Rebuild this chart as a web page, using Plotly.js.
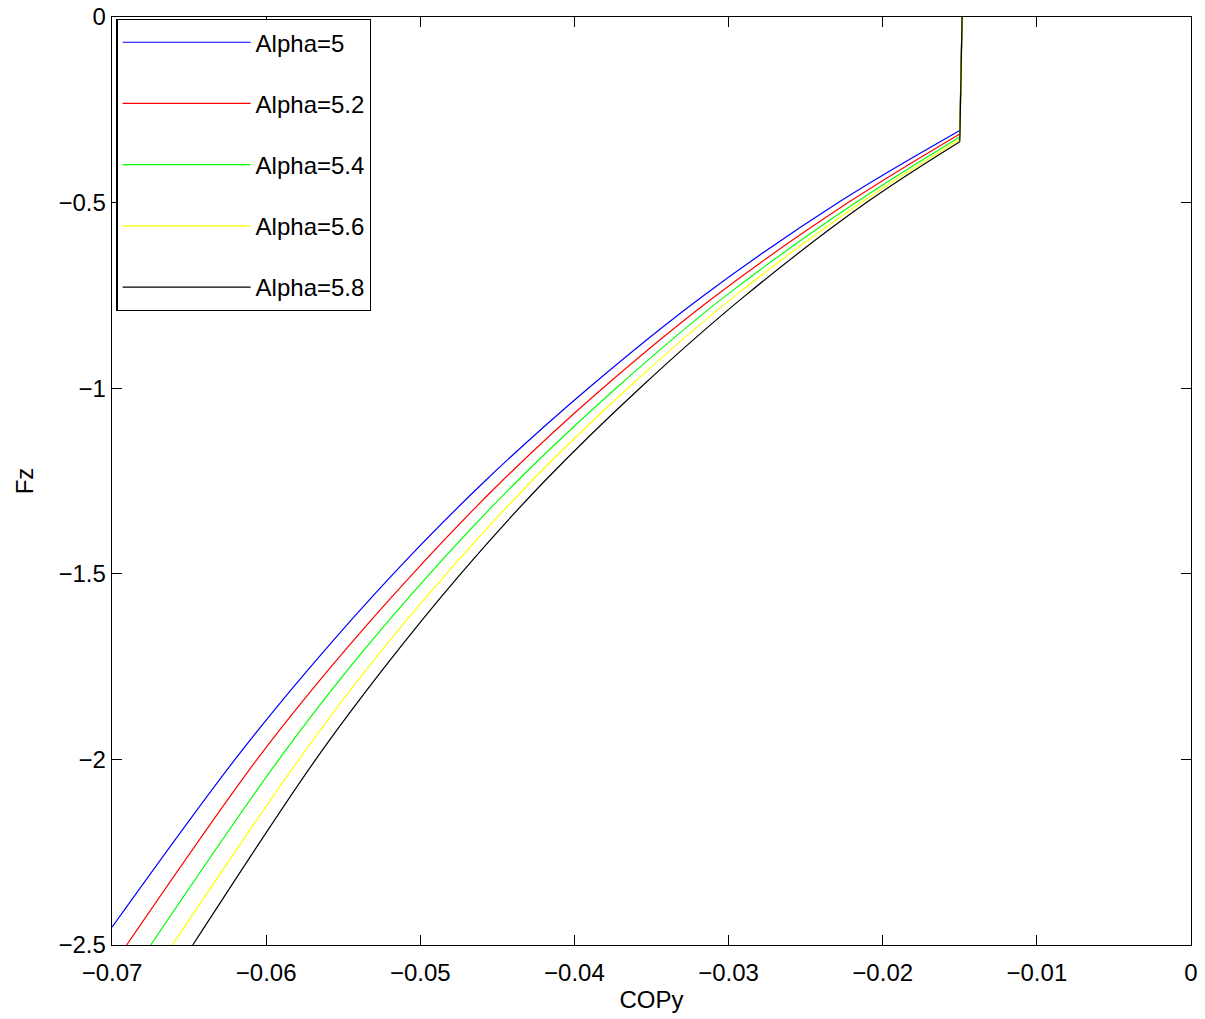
<!DOCTYPE html>
<html>
<head>
<meta charset="utf-8">
<script src="https://cdn.plot.ly/plotly-3.0.1.min.js"></script>
<style>html,body{margin:0;padding:0;background:#fff;}#chart{width:1205px;height:1019px;}</style>
</head>
<body>
<div id="chart"></div>
<script>
// Series names and colours
const seriesNames = ["Alpha=5", "Alpha=5.2", "Alpha=5.4", "Alpha=5.6", "Alpha=5.8"];
const seriesColors = ["#0000ff", "#ff0000", "#00ff00", "#ffff00", "#000000"];

// Curved part: COPy (x) and Fz (y)
const fzAlpha5   = [-2.452, -2, -1.75, -1.5, -1.25, -1, -0.75, -0.5, -0.306];
const copyAlpha5 = [-0.07, -0.06202, -0.05711, -0.05175, -0.0458, -0.0391, -0.03161, -0.02288, -0.0150];

const fzAlpha52   = [-2.5, -2, -1.75, -1.5, -1.25, -1, -0.75, -0.5, -0.315];
const copyAlpha52 = [-0.06905, -0.06059, -0.05578, -0.05049, -0.0447, -0.03817, -0.03081, -0.02224, -0.0150];

const fzAlpha54   = [-2.5, -2, -1.75, -1.5, -1.25, -1, -0.75, -0.5, -0.323];
const copyAlpha54 = [-0.06749, -0.05917, -0.05454, -0.04939, -0.04371, -0.0373, -0.03015, -0.02175, -0.0150];

const fzAlpha56   = [-2.5, -2, -1.75, -1.5, -1.25, -1, -0.75, -0.5, -0.330];
const copyAlpha56 = [-0.06609, -0.05787, -0.05335, -0.04831, -0.04277, -0.03654, -0.02955, -0.02139, -0.0150];

const fzAlpha58   = [-2.5, -2, -1.75, -1.5, -1.25, -1, -0.75, -0.5, -0.336];
const copyAlpha58 = [-0.06476, -0.05678, -0.05229, -0.04738, -0.04193, -0.03576, -0.0289, -0.02106, -0.0150];

// Near-vertical jump up to Fz = 0 (common top point)
const topCopy = -0.01485;
const topFz = 0;

const xTicks = [-0.07, -0.06, -0.05, -0.04, -0.03, -0.02, -0.01, 0];
const yTicks = [-2.5, -2, -1.5, -1, -0.5, 0];

const curveX = [copyAlpha5, copyAlpha52, copyAlpha54, copyAlpha56, copyAlpha58];
const curveY = [fzAlpha5, fzAlpha52, fzAlpha54, fzAlpha56, fzAlpha58];

const traces = [];
for (let i = 0; i < seriesNames.length; i++) {
  const cx = curveX[i], cy = curveY[i];
  traces.push({
    type: "scatter", mode: "lines",
    x: cx, y: cy,
    name: seriesNames[i], legendgroup: "g" + i,
    line: {color: seriesColors[i], width: 1.2, shape: "spline", smoothing: 1}
  });
  traces.push({
    type: "scatter", mode: "lines",
    x: [cx[cx.length - 1], topCopy], y: [cy[cy.length - 1], topFz],
    legendgroup: "g" + i, showlegend: false,
    line: {color: seriesColors[i], width: 1.2},
    hoverinfo: "skip"
  });
}

const fontFam = "Liberation Sans, Arial, sans-serif";
const fs = 24;
const layout = {
  width: 1205, height: 1019,
  margin: {l: 112, r: 14, t: 17, b: 74},
  paper_bgcolor: "#fff", plot_bgcolor: "#fff",
  font: {family: fontFam, size: fs, color: "#000"},
  showlegend: true,
  legend: {
    x: 0.004, y: 0.998, xanchor: "left", yanchor: "top",
    bordercolor: "#000", borderwidth: 1.3, bgcolor: "#fff",
    font: {family: fontFam, size: fs, color: "#000"},
    itemwidth: 128, traceorder: "grouped", tracegroupgap: 27,
    valign: "middle"
  },
  xaxis: {
    range: [-0.07, 0], tickvals: xTicks,
    ticks: "inside", ticklen: 10, tickcolor: "#000", tickwidth: 1,
    showline: true, linecolor: "#000", linewidth: 1.3, mirror: "ticks",
    showgrid: false, zeroline: false, ticklabelstandoff: 6,
    title: {text: "COPy", font: {family: fontFam, size: fs}, standoff: 6},
    tickfont: {family: fontFam, size: fs}
  },
  yaxis: {
    range: [-2.5, 0], tickvals: yTicks,
    ticks: "inside", ticklen: 10, tickcolor: "#000", tickwidth: 1,
    showline: true, linecolor: "#000", linewidth: 1.3, mirror: "ticks",
    showgrid: false, zeroline: false,
    title: {text: "Fz", font: {family: fontFam, size: fs}, standoff: 18},
    tickfont: {family: fontFam, size: fs}
  }
};

Plotly.newPlot("chart", traces, layout, {displayModeBar: false, staticPlot: true});
</script>
</body>
</html>
